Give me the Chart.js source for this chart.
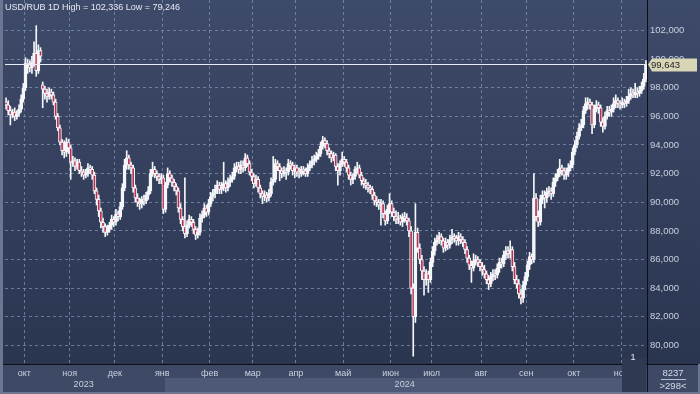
<!DOCTYPE html>
<html>
<head>
<meta charset="utf-8">
<script src="https://cdn.jsdelivr.net/npm/chart.js@4.4.1/dist/chart.umd.min.js"></script>
<style>
  html, body { margin: 0; padding: 0; background: #2b3550; }
  canvas { display: block; }
</style>
</head>
<body>
<canvas id="chart" width="700" height="394"></canvas>
<script>
const title = 'USD/RUB 1D High = 102,336 Low = 79,246';

// daily bars, mid-Sep 2023 .. mid-Nov 2024
const opens = [
  97.0, 96.8, 96.4, 96.1, 96.3, 96.0, 96.2, 96.5, 97.2, 98.0,
  99.7, 99.6, 99.4, 99.8, 100.4, 99.2, 100.6, 98.2, 97.9, 97.6,
  97.4, 97.7, 97.5, 97.0, 96.0, 95.2, 94.2, 93.6, 93.5, 94.2,
  93.8, 92.8, 92.9, 92.5, 92.8, 92.2, 92.1, 91.9, 92.0, 92.4,
  92.3, 91.9, 90.8, 90.2, 89.4, 88.6, 88.3, 87.9, 88.1, 88.4,
  88.8, 88.6, 89.2, 89.0, 89.7, 91.0, 92.6, 93.1, 92.6, 92.4,
  91.0, 90.3, 90.0, 89.9, 90.2, 90.1, 90.5, 90.8, 92.0, 92.3,
  92.0, 91.8, 91.6, 91.7, 89.5, 91.2, 92.0, 91.7, 91.4, 91.1,
  90.8, 89.6, 88.8, 88.3, 87.8, 88.4, 88.8, 88.6, 88.1, 87.7,
  87.9, 88.9, 89.1, 89.6, 89.3, 89.9, 90.4, 90.6, 90.9, 91.2,
  90.9, 91.1, 91.3, 91.0, 91.4, 91.6, 91.8, 92.4, 92.5, 92.3,
  92.6, 92.4, 93.1, 92.7, 92.1, 91.8, 91.3, 91.6, 91.0, 90.6,
  90.4, 90.5, 90.3, 90.6, 91.4, 91.6, 92.7, 92.5, 92.2, 92.0,
  92.2, 92.1, 92.7, 92.6, 92.2, 92.4, 92.1, 92.0, 92.3, 92.2,
  92.0, 92.4, 92.6, 92.9, 93.0, 93.2, 93.4, 93.9, 94.3, 94.1,
  93.6, 93.4, 93.1, 93.3, 92.5, 92.2, 92.7, 93.0, 92.8, 92.4,
  91.9, 91.6, 91.8, 92.3, 92.4, 91.9, 91.5, 91.3, 91.2, 91.0,
  90.9, 90.5, 90.1, 90.0, 89.8, 89.9, 89.2, 88.7, 89.5, 89.9,
  89.3, 89.0, 88.8, 88.9, 88.6, 89.0, 88.9, 88.7, 88.0, 84.0,
  82.0, 87.9, 86.8, 86.0, 85.2, 84.6, 85.0, 84.6, 85.8, 86.6,
  87.2, 87.4, 87.6, 87.3, 86.8, 87.2, 87.0, 87.4, 87.6, 87.5,
  87.3, 87.6, 87.4, 87.2, 86.7, 86.1, 85.6, 85.4, 85.9, 86.0,
  85.8, 85.5, 85.3, 85.0, 84.6, 84.3, 84.8, 85.0, 84.9, 85.4,
  85.8, 85.7, 86.3, 86.6, 86.4, 86.7, 85.5, 84.6, 84.3, 83.6,
  83.3, 84.2, 84.8, 85.6, 86.2, 86.0, 90.3, 89.0, 88.6, 90.2,
  90.5, 90.3, 90.7, 90.8, 90.6, 91.4, 91.7, 92.0, 92.4, 92.2,
  91.9, 92.1, 92.4, 92.6, 93.5, 94.0, 94.6, 95.2, 95.4, 96.4,
  96.9, 97.0, 96.8, 95.4, 96.5, 96.8, 96.6, 95.6, 95.3, 96.0,
  96.4, 96.3, 96.5, 96.9, 97.1, 96.9, 96.8, 97.0, 96.9, 97.1,
  97.4, 97.6, 97.5, 97.7, 97.6, 97.8, 98.1, 98.6
];
const highs = [
  97.3, 97.1, 96.7, 96.5, 96.6, 96.4, 96.8, 97.5, 98.3, 100.1,
  100.0, 99.9, 100.2, 101.2, 102.336, 101.0, 100.8, 98.4, 98.1, 97.9,
  98.0, 97.9, 97.7, 97.2, 96.2, 95.4, 94.4, 94.3, 94.5, 94.4,
  94.0, 93.2, 93.1, 93.0, 93.0, 92.5, 92.3, 92.3, 92.7, 92.6,
  92.5, 92.1, 91.0, 90.5, 89.6, 88.9, 88.5, 88.4, 88.6, 89.1,
  89.0, 89.5, 89.4, 90.0, 91.3, 93.0, 93.6, 93.3, 92.8, 92.6,
  91.2, 90.6, 90.3, 90.4, 90.5, 90.7, 91.1, 92.3, 92.8, 92.5,
  92.2, 92.0, 92.0, 91.9, 91.4, 92.4, 92.2, 91.9, 91.6, 91.3,
  91.0, 89.9, 89.0, 91.7, 88.7, 89.1, 89.0, 88.8, 88.3, 88.2,
  89.2, 89.4, 89.9, 89.8, 90.2, 90.7, 90.9, 91.2, 91.5, 91.4,
  91.4, 92.8, 91.5, 91.7, 91.9, 92.1, 92.7, 92.8, 92.8, 92.9,
  92.9, 93.4, 93.3, 92.9, 92.3, 92.0, 91.9, 91.8, 91.2, 90.8,
  90.8, 90.7, 90.9, 91.7, 93.2, 93.0, 92.9, 92.7, 92.4, 92.5,
  92.4, 93.0, 92.9, 92.8, 92.6, 92.6, 92.4, 92.5, 92.5, 92.4,
  92.7, 92.9, 93.2, 93.3, 93.5, 93.7, 94.2, 94.6, 94.5, 94.3,
  93.8, 93.6, 93.5, 93.4, 92.7, 92.9, 93.5, 93.2, 93.0, 92.6,
  92.1, 92.0, 92.5, 92.8, 92.6, 92.1, 91.7, 91.6, 91.4, 91.2,
  91.1, 90.7, 90.4, 90.2, 90.2, 90.1, 89.4, 89.8, 90.6, 90.1,
  89.6, 89.4, 89.3, 89.1, 89.2, 89.3, 89.2, 88.9, 88.3, 84.3,
  89.9, 88.2, 87.1, 86.3, 85.5, 85.3, 85.2, 86.1, 86.9, 87.5,
  87.7, 87.9, 87.8, 87.5, 87.5, 87.4, 87.7, 88.1, 87.8, 87.7,
  87.9, 87.8, 87.6, 87.4, 86.9, 86.3, 85.9, 86.4, 86.3, 86.2,
  86.0, 85.8, 85.6, 85.2, 84.9, 85.1, 85.3, 85.3, 85.7, 86.1,
  86.1, 86.6, 86.9, 86.9, 87.3, 86.9, 85.8, 84.9, 84.6, 83.9,
  84.5, 85.1, 85.9, 86.5, 86.4, 92.0, 90.6, 89.4, 90.5, 90.8,
  90.8, 91.0, 91.1, 91.0, 91.7, 92.0, 92.3, 93.0, 92.6, 92.4,
  92.4, 92.7, 92.9, 93.8, 94.3, 94.9, 95.5, 95.8, 96.7, 97.3,
  97.3, 97.2, 97.0, 96.8, 97.1, 97.0, 96.8, 95.9, 96.3, 96.7,
  96.7, 96.8, 97.3, 97.5, 97.3, 97.1, 97.3, 97.2, 97.4, 97.9,
  98.0, 97.9, 98.3, 98.0, 98.1, 98.4, 99.0, 99.9
];
const lows = [
  96.5, 96.1, 95.4, 95.9, 95.7, 95.8, 96.0, 96.3, 97.0, 97.8,
  99.0, 99.1, 99.0, 99.5, 98.8, 99.0, 99.8, 96.6, 97.2, 97.0,
  97.2, 97.2, 96.8, 95.8, 95.0, 94.0, 93.3, 93.1, 93.2, 93.4,
  91.6, 92.5, 92.2, 92.3, 92.0, 91.8, 91.6, 91.7, 91.8, 92.0,
  91.6, 90.6, 89.8, 89.0, 88.2, 87.9, 87.6, 87.7, 87.9, 88.1,
  88.3, 88.4, 88.7, 88.8, 89.5, 90.8, 92.3, 92.3, 92.0, 90.7,
  90.0, 89.7, 89.5, 89.6, 89.8, 89.9, 90.2, 90.6, 91.8, 91.7,
  91.5, 91.3, 91.3, 89.2, 89.3, 91.0, 91.4, 91.1, 90.8, 90.5,
  89.3, 88.5, 88.0, 87.5, 87.6, 88.2, 88.3, 87.8, 87.4, 87.5,
  87.7, 88.6, 88.9, 89.0, 89.1, 89.7, 90.1, 90.3, 90.6, 90.6,
  90.6, 90.8, 90.7, 90.8, 91.1, 91.4, 91.6, 92.1, 92.0, 92.0,
  92.1, 92.2, 92.5, 91.9, 91.5, 91.0, 91.1, 90.7, 90.3, 89.9,
  90.1, 90.0, 90.1, 90.4, 91.2, 91.4, 92.2, 91.5, 91.7, 91.8,
  91.6, 91.9, 92.3, 91.9, 91.7, 91.8, 91.7, 91.8, 91.9, 91.8,
  91.8, 92.2, 92.4, 92.6, 92.8, 93.0, 93.2, 93.7, 93.8, 93.3,
  93.1, 92.8, 92.9, 92.2, 91.2, 91.9, 92.5, 92.5, 92.1, 91.6,
  91.2, 91.3, 91.6, 92.0, 91.7, 91.2, 91.0, 90.9, 90.7, 90.6,
  90.2, 89.8, 89.7, 89.5, 88.4, 88.9, 88.4, 88.5, 89.2, 89.0,
  88.7, 88.5, 88.5, 88.4, 88.3, 88.6, 88.4, 87.6, 83.6, 79.246,
  81.6, 86.5, 85.7, 84.6, 83.5, 84.2, 83.7, 84.4, 85.5, 86.3,
  87.0, 87.1, 87.0, 86.5, 86.6, 86.7, 86.8, 87.1, 87.2, 87.0,
  87.0, 87.1, 86.9, 86.4, 85.8, 85.3, 84.4, 85.2, 85.6, 85.5,
  85.2, 84.9, 84.7, 84.3, 83.9, 84.1, 84.5, 84.6, 84.7, 85.1,
  85.4, 85.5, 86.0, 86.1, 86.1, 85.2, 84.3, 84.0, 83.3, 82.9,
  83.0, 83.9, 84.5, 85.3, 85.7, 85.8, 88.7, 88.3, 88.4, 89.9,
  89.6, 90.0, 90.4, 90.2, 90.4, 91.1, 91.5, 91.8, 91.9, 91.6,
  91.6, 91.8, 92.2, 92.4, 93.3, 93.8, 94.4, 95.0, 95.2, 96.2,
  96.5, 96.5, 94.8, 95.2, 96.3, 96.2, 95.3, 94.9, 95.1, 95.8,
  96.0, 96.0, 96.3, 96.6, 96.6, 96.5, 96.6, 96.6, 96.7, 96.9,
  97.2, 97.3, 97.3, 97.3, 97.4, 97.6, 97.9, 98.4
];
const closes = [
  96.8, 96.4, 96.1, 96.3, 96.0, 96.2, 96.5, 97.2, 98.0, 99.7,
  99.6, 99.4, 99.8, 100.4, 99.2, 100.6, 100.2, 97.9, 97.6, 97.4,
  97.7, 97.5, 97.0, 96.0, 95.2, 94.2, 93.6, 93.5, 94.2, 93.8,
  92.8, 92.9, 92.5, 92.8, 92.2, 92.1, 91.9, 92.0, 92.4, 92.3,
  91.9, 90.8, 90.2, 89.4, 88.6, 88.3, 87.9, 88.1, 88.4, 88.8,
  88.6, 89.2, 89.0, 89.7, 91.0, 92.6, 93.1, 92.6, 92.4, 91.0,
  90.3, 90.0, 89.9, 90.2, 90.1, 90.5, 90.8, 92.0, 92.3, 92.0,
  91.8, 91.6, 91.7, 89.5, 91.2, 92.0, 91.7, 91.4, 91.1, 90.8,
  89.6, 88.8, 88.3, 87.8, 88.4, 88.8, 88.6, 88.1, 87.7, 87.9,
  88.9, 89.1, 89.6, 89.3, 89.9, 90.4, 90.6, 90.9, 91.2, 90.9,
  91.1, 91.3, 91.0, 91.4, 91.6, 91.8, 92.4, 92.5, 92.3, 92.6,
  92.4, 93.1, 92.7, 92.1, 91.8, 91.3, 91.6, 91.0, 90.6, 90.4,
  90.5, 90.3, 90.6, 91.4, 91.6, 92.7, 92.5, 92.2, 92.0, 92.2,
  92.1, 92.7, 92.6, 92.2, 92.4, 92.1, 92.0, 92.3, 92.2, 92.0,
  92.4, 92.6, 92.9, 93.0, 93.2, 93.4, 93.9, 94.3, 94.1, 93.6,
  93.4, 93.1, 93.3, 92.5, 92.2, 92.7, 93.0, 92.8, 92.4, 91.9,
  91.6, 91.8, 92.3, 92.4, 91.9, 91.5, 91.3, 91.2, 91.0, 90.9,
  90.5, 90.1, 90.0, 89.8, 89.9, 89.2, 88.7, 89.5, 89.9, 89.3,
  89.0, 88.8, 88.9, 88.6, 89.0, 88.9, 88.7, 88.0, 84.0, 82.0,
  87.9, 86.8, 86.0, 85.2, 84.6, 85.0, 84.6, 85.8, 86.6, 87.2,
  87.4, 87.6, 87.3, 86.8, 87.2, 87.0, 87.4, 87.6, 87.5, 87.3,
  87.6, 87.4, 87.2, 86.7, 86.1, 85.6, 85.4, 85.9, 86.0, 85.8,
  85.5, 85.3, 85.0, 84.6, 84.3, 84.8, 85.0, 84.9, 85.4, 85.8,
  85.7, 86.3, 86.6, 86.4, 86.7, 85.5, 84.6, 84.3, 83.6, 83.3,
  84.2, 84.8, 85.6, 86.2, 86.0, 90.3, 89.0, 88.6, 90.2, 90.5,
  90.3, 90.7, 90.8, 90.6, 91.4, 91.7, 92.0, 92.4, 92.2, 91.9,
  92.1, 92.4, 92.6, 93.5, 94.0, 94.6, 95.2, 95.4, 96.4, 96.9,
  97.0, 96.8, 95.4, 96.5, 96.8, 96.6, 95.6, 95.3, 96.0, 96.4,
  96.3, 96.5, 96.9, 97.1, 96.9, 96.8, 97.0, 96.9, 97.1, 97.4,
  97.6, 97.5, 97.7, 97.6, 97.8, 98.1, 98.6, 99.643
];

// bar index where each month / year begins
const monthLabels = ['окт', 'ноя', 'дек', 'янв', 'фев', 'мар', 'апр', 'май', 'июн', 'июл', 'авг', 'сен', 'окт', 'ноя'];
const monthStarts = [9, 30, 51, 73, 95, 115, 135, 157, 179, 198, 221, 242, 264, 286];
const yearLabels = ['2023', '2024'];
const yearStarts = [0, 73];
const priceTicks = [80, 82, 84, 86, 88, 90, 92, 94, 96, 98, 100, 102];
const barCount = '8237';
const visibleBars = '>298<';

const FONT = '"Liberation Sans", Arial, sans-serif';
const gridCol = 'rgba(130,146,178,0.75)';
const fmt = v => v.toFixed(3).replace('.', ',');

const labels = closes.map((c, i) => i);
const wicks = lows.map((l, i) => [l, highs[i]]);
const bodies = opens.map((o, i) => [o, closes[i]]);

const background = {
  id: 'background',
  beforeDraw(chart) {
    const ctx = chart.ctx;
    const area = chart.chartArea;
    ctx.save();
    const g = ctx.createLinearGradient(0, 0, 0, area.bottom);
    g.addColorStop(0, '#3e4a69');
    g.addColorStop(1, '#2a3550');
    ctx.fillStyle = g;
    ctx.fillRect(0, 0, chart.width, area.bottom);
    // bottom time strip
    ctx.fillStyle = '#3e4966';
    ctx.fillRect(0, area.bottom, chart.width, chart.height - area.bottom);
    ctx.fillStyle = '#4d5977';
    ctx.fillRect(165, area.bottom + 14, 457, 14);
    ctx.restore();
  }
};

const overlay = {
  id: 'overlay',
  afterDraw(chart) {
    const ctx = chart.ctx;
    const area = chart.chartArea;
    const x = chart.scales.x;
    const y = chart.scales.y;
    const step = x.getPixelForValue(1) - x.getPixelForValue(0);
    ctx.save();

    // last price line
    const last = closes[closes.length - 1];
    const py = Math.round(y.getPixelForValue(last)) + 0.5;
    ctx.strokeStyle = '#e8ecf4';
    ctx.lineWidth = 1;
    ctx.beginPath();
    ctx.moveTo(area.left, py);
    ctx.lineTo(area.right, py);
    ctx.stroke();

    // title
    ctx.font = '9px ' + FONT;
    ctx.fillStyle = '#e6eaf2';
    ctx.textBaseline = 'middle';
    ctx.textAlign = 'left';
    ctx.fillText(title, 5, 8);

    // axis separators
    ctx.strokeStyle = '#0c0f18';
    ctx.beginPath();
    ctx.moveTo(0, area.bottom + 0.5);
    ctx.lineTo(chart.width, area.bottom + 0.5);
    ctx.moveTo(area.right + 0.5, 0);
    ctx.lineTo(area.right + 0.5, chart.height);
    ctx.stroke();

    // month labels
    ctx.font = '9px ' + FONT;
    ctx.fillStyle = '#c9d0de';
    ctx.textAlign = 'center';
    monthStarts.forEach((m, i) => {
      const px = x.getPixelForValue(m) - step / 2;
      ctx.fillText(monthLabels[i], px, area.bottom + 10);
    });
    yearStarts.forEach((s, i) => {
      const a = x.getPixelForValue(s) - step / 2;
      const b = i + 1 < yearStarts.length ? x.getPixelForValue(yearStarts[i + 1]) - step / 2 : area.right;
      ctx.fillText(yearLabels[i], (a + b) / 2, area.bottom + 21);
    });

    // small box near the right edge
    ctx.fillStyle = '#2f3952';
    ctx.fillRect(622, area.bottom - 6, 24, 34);
    ctx.fillStyle = '#e6eaf2';
    ctx.fillText('1', 633, area.bottom - 6);

    // price marker
    ctx.fillStyle = '#d8d6b6';
    ctx.beginPath();
    ctx.moveTo(area.right + 1, py);
    ctx.lineTo(area.right + 5, py - 6);
    ctx.lineTo(697, py - 6);
    ctx.lineTo(697, py + 7);
    ctx.lineTo(area.right + 5, py + 7);
    ctx.closePath();
    ctx.fill();
    ctx.fillStyle = '#1c1c1c';
    ctx.textAlign = 'left';
    ctx.font = '9.5px ' + FONT;
    ctx.fillText(fmt(last), area.right + 4, py + 0.5);

    // bottom-right counters
    ctx.fillStyle = '#d4dae6';
    ctx.textAlign = 'center';
    ctx.font = '9.5px ' + FONT;
    ctx.fillText(barCount, 673, area.bottom + 9);
    ctx.fillText(visibleBars, 673, area.bottom + 22);
    ctx.strokeStyle = '#b8c0d0';
    ctx.beginPath();
    ctx.moveTo(661, area.bottom + 15.5);
    ctx.lineTo(686, area.bottom + 15.5);
    ctx.stroke();

    // window frame
    ctx.fillStyle = '#6c7690';
    ctx.fillRect(0, 0, 3, chart.height);
    ctx.fillRect(0, chart.height - 2, chart.width, 2);
    ctx.fillRect(chart.width - 2, area.bottom, 2, chart.height - area.bottom);
    ctx.restore();
  }
};

Chart.defaults.font.family = FONT;
Chart.defaults.font.size = 9;

new Chart(document.getElementById('chart').getContext('2d'), {
  type: 'bar',
  data: {
    labels: labels,
    datasets: [{
      label: 'wick',
      data: wicks,
      grouped: false,
      barThickness: 1,
      backgroundColor: '#f4f6fa',
      borderWidth: 0,
      order: 2
    }, {
      label: 'body',
      data: bodies,
      grouped: false,
      barThickness: 3,
      minBarLength: 1,
      backgroundColor: ctx => {
        const i = ctx.dataIndex;
        return closes[i] < opens[i] ? '#b7304f' : '#f4f6fa';
      },
      borderColor: '#f4f6fa',
      borderWidth: 1,
      borderSkipped: false,
      order: 1
    }]
  },
  options: {
    responsive: false,
    animation: false,
    devicePixelRatio: 1,
    layout: { padding: { left: 5, right: 0, top: 0, bottom: 0 } },
    plugins: {
      legend: { display: false },
      tooltip: { enabled: false }
    },
    scales: {
      x: {
        type: 'category',
        ticks: { display: false, autoSkip: false },
        grid: {
          drawTicks: false,
          color: ctx => monthStarts.includes(ctx.index) ? gridCol : 'rgba(0,0,0,0)'
        },
        border: { display: false, dash: [3, 3] },
        afterFit: s => { s.height = 30; s.paddingLeft = 0; s.paddingRight = 0; }
      },
      y: {
        position: 'right',
        min: 78.70,
        max: 104.13,
        afterBuildTicks: s => { s.ticks = priceTicks.map(v => ({ value: v })); },
        ticks: {
          color: '#c9d0de',
          padding: 3,
          font: { size: 9.5 },
          callback: v => fmt(v)
        },
        grid: { drawTicks: false, color: gridCol },
        border: { display: false, dash: [3, 3] },
        afterFit: s => { s.width = 53; s.paddingTop = 0; s.paddingBottom = 0; }
      }
    }
  },
  plugins: [background, overlay]
});
</script>
</body>
</html>
